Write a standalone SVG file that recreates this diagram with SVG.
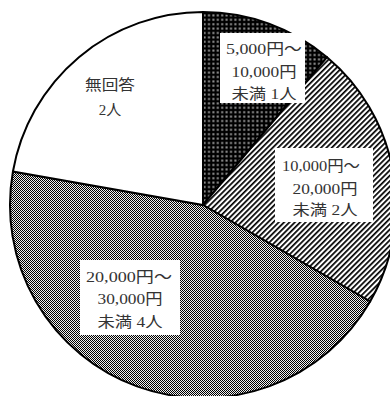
<svg xmlns="http://www.w3.org/2000/svg" width="390" height="396" viewBox="0 0 390 396">
<style>
.slice{stroke:#000;stroke-width:2;stroke-linejoin:round}
.box{fill:#fff;stroke:none}
.lbl{font-family:"Liberation Serif","Noto Sans CJK JP",serif;font-size:15px;fill:#333;text-anchor:middle}
</style>
<defs>
<pattern id="dots" width="4.4" height="4.4" patternUnits="userSpaceOnUse">
<rect width="4.4" height="4.4" fill="#000"/>
<rect x="1.2" y="1.2" width="2" height="2" fill="#999"/>
</pattern>
<pattern id="stripes" width="3.8" height="3.8" patternUnits="userSpaceOnUse" patternTransform="rotate(45)">
<rect width="3.8" height="3.8" fill="#fff"/>
<rect width="1.7" height="3.8" fill="#000"/>
</pattern>
<pattern id="checker" width="2" height="2" patternUnits="userSpaceOnUse">
<rect width="2" height="2" fill="#eee"/>
<rect width="1" height="1" fill="#000"/>
<rect x="1" y="1" width="1" height="1" fill="#000"/>
</pattern>
</defs>
<g id="slices">
<g id="s1"><path class="slice" fill="url(#dots)" d="M203,205 L203,12 A193,193 0 0 1 327.06,57.15 Z"/></g>
<g id="s2"><path class="slice" fill="url(#stripes)" d="M203,205 L327.06,57.15 A193,193 0 0 1 370.14,301.5 Z"/></g>
<g id="s3"><path class="slice" fill="url(#checker)" d="M203,205 L370.14,301.5 A193,193 0 0 1 12.93,171.49 Z"/></g>
<g id="s4"><path class="slice" fill="#fff" d="M203,205 L12.93,171.49 A193,193 0 0 1 203,12 Z"/></g>
</g>
<g id="label1">
<rect class="box" x="220" y="33" width="85" height="70"/>
<text class="lbl" x="264" y="54" textLength="76" lengthAdjust="spacingAndGlyphs">5,000円～</text>
<text class="lbl" x="264" y="77" textLength="65" lengthAdjust="spacingAndGlyphs">10,000円</text>
<text class="lbl" x="264" y="99" textLength="65" lengthAdjust="spacingAndGlyphs">未満 1人</text>
</g>
<g id="label2">
<rect class="box" x="275" y="148" width="98" height="74"/>
<text class="lbl" x="321" y="171" textLength="78" lengthAdjust="spacingAndGlyphs">10,000円～</text>
<text class="lbl" x="325" y="194" textLength="65" lengthAdjust="spacingAndGlyphs">20,000円</text>
<text class="lbl" x="325" y="215" textLength="65" lengthAdjust="spacingAndGlyphs">未満 2人</text>
</g>
<g id="label3">
<rect class="box" x="80" y="260" width="100" height="75"/>
<text class="lbl" x="129" y="282" textLength="86" lengthAdjust="spacingAndGlyphs">20,000円～</text>
<text class="lbl" x="130" y="304" textLength="65" lengthAdjust="spacingAndGlyphs">30,000円</text>
<text class="lbl" x="130" y="327" textLength="65" lengthAdjust="spacingAndGlyphs">未満 4人</text>
</g>
<g id="label4">
<text class="lbl" x="110" y="90" textLength="50" lengthAdjust="spacingAndGlyphs">無回答</text>
<text class="lbl" x="110" y="115">2人</text>
</g>
</svg>
